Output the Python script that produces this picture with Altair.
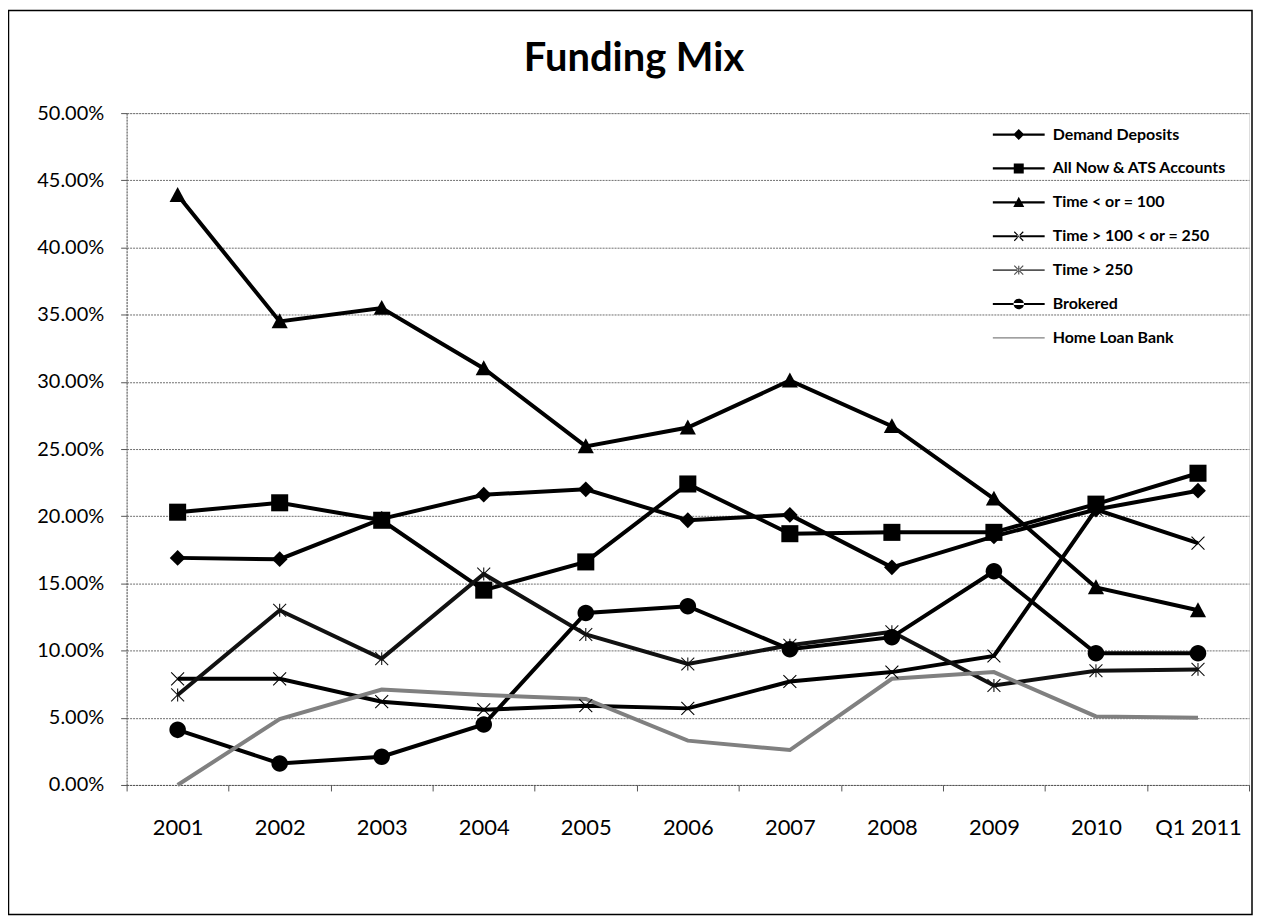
import altair as alt
import pandas as pd

# ---------------- data (percent) ----------------
periods = ["2001", "2002", "2003", "2004", "2005", "2006", "2007", "2008", "2009", "2010", "Q1 2011"]
series_names = ["Demand Deposits", "All Now & ATS Accounts", "Time < or = 100",
                "Time > 100 < or = 250", "Time > 250", "Brokered", "Home Loan Bank"]
demand = [16.9, 16.8, 19.8, 21.6, 22.0, 19.7, 20.1, 16.2, 18.5, 20.5, 21.9]
now_ats = [20.3, 21.0, 19.7, 14.5, 16.6, 22.4, 18.7, 18.8, 18.8, 20.9, 23.2]
time_le100 = [43.9, 34.5, 35.5, 31.0, 25.2, 26.6, 30.1, 26.7, 21.3, 14.7, 13.0]
time_100_250 = [7.9, 7.9, 6.2, 5.6, 5.9, 5.7, 7.7, 8.4, 9.6, 20.5, 18.0]
time_gt250 = [6.7, 13.0, 9.4, 15.7, 11.2, 9.0, 10.4, 11.4, 7.4, 8.5, 8.6]
brokered = [4.1, 1.6, 2.1, 4.5, 12.8, 13.3, 10.1, 11.0, 15.9, 9.8, 9.8]
home_loan = [0.0, 4.9, 7.1, 6.7, 6.4, 3.3, 2.6, 7.9, 8.4, 5.1, 5.0]
y_ticks = [0.0, 0.05, 0.10, 0.15, 0.20, 0.25, 0.30, 0.35, 0.40, 0.45, 0.50]
chart_title = "Funding Mix"

all_series = [demand, now_ats, time_le100, time_100_250, time_gt250, brokered, home_loan]
rows = []
for name, vals in zip(series_names, all_series):
    for p, v in zip(periods, vals):
        rows.append({"period": p, "series": name, "value": v / 100.0})
df = pd.DataFrame(rows)

# ---------------- marker shapes (SVG paths in unit square) ----------------
def poly(pts):
    return "M" + "L".join(f"{x:.3f},{y:.3f}" for x, y in pts) + "Z"

def bar(x1, y1, x2, y2, t):
    dx, dy = x2 - x1, y2 - y1
    ln = (dx * dx + dy * dy) ** 0.5
    nx, ny = -dy / ln * t, dx / ln * t
    return poly([(x1 + nx, y1 + ny), (x2 + nx, y2 + ny), (x2 - nx, y2 - ny), (x1 - nx, y1 - ny)])

def diamond(r):
    return poly([(0, -r), (r, 0), (0, r), (-r, 0)])

def square(r):
    return poly([(-r, -r), (r, -r), (r, r), (-r, r)])

def triangle(r):
    return poly([(0, -r), (r, 0.85 * r), (-r, 0.85 * r)])

def circle(r):
    return f"M{-r},0A{r},{r} 0 1,0 {r},0A{r},{r} 0 1,0 {-r},0Z"

def xmark(r, t):
    return bar(-r, -r, r, r, t) + bar(-r, r, r, -r, t)

def star(r, t):
    return xmark(r, t) + bar(0, -r, 0, r, t)

def hline(L, t):
    return poly([(-L, -t), (L, -t), (L, t), (-L, t)])

chart_shapes = [diamond(0.88), square(0.95), triangle(0.9), xmark(0.72, 0.06),
                star(0.72, 0.06), circle(0.92)]
leg_line = hline(5.2, 0.22)
legend_shapes = [leg_line + diamond(1.1), leg_line + square(1.0), leg_line + triangle(1.1),
                 leg_line + xmark(0.9, 0.12), hline(5.2, 0.18) + star(0.9, 0.12),
                 leg_line + circle(1.05), hline(5.2, 0.14)]

line_colors = ["#000000", "#000000", "#000000", "#000000", "#111111", "#000000", "#808080"]
legend_colors = ["#000000", "#000000", "#000000", "#000000", "#555555", "#000000", "#808080"]
line_widths = [4, 4, 4, 4, 4, 4, 2.2]

W, H = 1126, 674

x_enc = alt.X("period:N", sort=periods, bandPosition=0.5,
              scale=alt.Scale(type="band", paddingInner=0, paddingOuter=0),
              axis=alt.Axis(title=None, labelAngle=0, tickBand="extent", grid=False,
                            labelFont="Lato", labelFontSize=22, labelColor="black",
                            labelPadding=27, tickSize=6, tickColor="#555555",
                            domainColor="#555555", domainDash=[2, 1]))
y_enc = alt.Y("value:Q", scale=alt.Scale(domain=[0, 0.5], nice=False),
              axis=alt.Axis(title=None, values=y_ticks, format=".2%",
                            labelFont="Lato", labelFontSize=20, labelColor="black",
                            labelPadding=17, tickSize=6, tickColor="#555555",
                            domainColor="#555555", domainDash=[2, 1],
                            gridColor="#6e6e6e", gridDash=[2, 1], gridWidth=1))

base = alt.Chart(df)

lines = base.mark_line().encode(
    x=x_enc, y=y_enc,
    color=alt.Color("series:N", scale=alt.Scale(domain=series_names, range=line_colors), legend=None),
    strokeWidth=alt.StrokeWidth("series:N", scale=alt.Scale(domain=series_names, range=line_widths), legend=None),
)

points = base.transform_filter(alt.datum.series != "Home Loan Bank").mark_point(
    filled=True, size=324, opacity=1
).encode(
    x=x_enc, y=y_enc,
    color=alt.Color("series:N", scale=alt.Scale(domain=series_names[:-1], range=line_colors[:-1]), legend=None),
    shape=alt.Shape("series:N", scale=alt.Scale(domain=series_names[:-1], range=chart_shapes), legend=None),
)

leg = alt.Legend(orient="none", legendX=887, legendY=13.5, title=None, padding=0,
                 rowPadding=18, labelOffset=26, symbolSize=100, symbolStrokeWidth=0,
                 labelFont="Lato", labelFontSize=16, labelFontWeight="bold",
                 labelColor="black", labelLimit=400)

legend_layer = base.transform_filter("false").mark_point(filled=True, size=100, opacity=1).encode(
    x=x_enc, y=y_enc,
    color=alt.Color("series:N", scale=alt.Scale(domain=series_names, range=legend_colors), legend=leg),
    shape=alt.Shape("series:N", scale=alt.Scale(domain=series_names, range=legend_shapes), legend=leg),
)

one = pd.DataFrame({"label": [chart_title]})

border = alt.Chart(one).mark_rect(
    fill="transparent", stroke="black", strokeWidth=1.5
).encode(x=alt.value(-118.5), x2=alt.value(W + 3), y=alt.value(-103), y2=alt.value(H + 130))

title = alt.Chart(one).mark_text(
    font="Lato", fontSize=40, fontWeight="bold", color="black",
    align="center", baseline="middle"
).encode(text="label:N", x=alt.value(W / 2 - 54), y=alt.value(-54))

chart = alt.layer(border, title, lines, points, legend_layer).resolve_scale(
    color="independent", shape="independent", strokeWidth="independent"
).properties(
    width=W, height=H,
    padding={"left": 119, "top": 104, "right": 4, "bottom": 131},
    autosize=alt.AutoSizeParams(type="none"),
).configure_view(stroke="transparent").configure(background="white")

chart.save("out.html", embed_options={"renderer": "svg", "actions": False})
